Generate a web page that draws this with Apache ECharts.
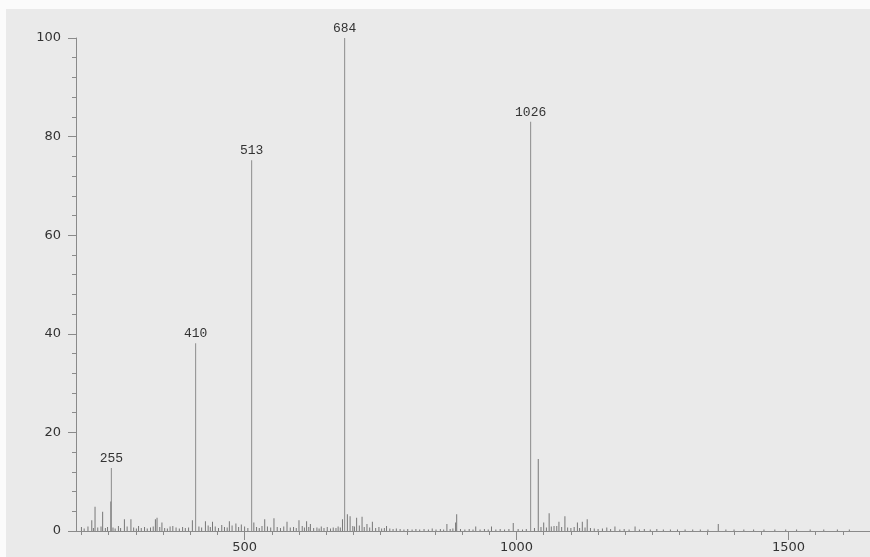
<!DOCTYPE html>
<html>
<head>
<meta charset="utf-8">
<script src="https://cdn.jsdelivr.net/npm/echarts@6/dist/echarts.min.js"></script>
<style>
html,body{margin:0;padding:0;background:#fbfbfb;}
#paper{position:absolute;left:6px;top:9px;width:864px;height:548px;background:#eaeaea;}
#chart{position:absolute;left:0;top:0;width:870px;height:557px;}
</style>
</head>
<body>
<div id="paper"></div>
<div id="chart"></div>
<script>
// m/z values and relative intensities (%)
const mz = [
  200, 205, 212, 219, 222, 225, 230, 236, 239, 244, 248, 254, 255, 258, 262, 268, 272, 279, 284, 291, 296, 301, 305, 310, 316, 321, 327, 332, 336, 339, 344, 348, 353, 358, 363, 368, 374, 380, 386, 391, 397, 404, 410, 416, 421, 428, 433, 437, 441, 446, 452, 458, 463, 468, 472, 477, 484, 489, 494, 500, 506, 513, 517, 522, 527, 532, 537, 542, 548, 554, 560, 566, 572, 578, 584, 590, 595, 600, 606, 610, 614, 618, 621, 627, 633, 637, 641, 646, 652, 658, 663, 668, 672, 676, 680, 684, 689, 694, 699, 702, 706, 711, 716, 720, 725, 730, 735, 741, 747, 752, 757, 761, 767, 773, 779, 786, 793, 800, 808, 815, 822, 830, 838, 845, 852, 860, 866, 872, 878, 883, 888, 890, 897, 905, 913, 920, 925, 933, 941, 948, 954, 962, 970, 978, 986, 994, 1003, 1011, 1018, 1026, 1033, 1040, 1045, 1050, 1055, 1060, 1064, 1069, 1074, 1078, 1083, 1089, 1094, 1100, 1106, 1112, 1116, 1121, 1126, 1130, 1136, 1143, 1150, 1158, 1166, 1173, 1181, 1190, 1198, 1207, 1218, 1226, 1235, 1246, 1258, 1270, 1283, 1296, 1310, 1324, 1338, 1352, 1371, 1385, 1400, 1418, 1436, 1455, 1475, 1495, 1515, 1540, 1565, 1590, 1612
];
const intensity = [
  0.8, 0.5, 0.9, 2.2, 0.6, 4.9, 0.7, 0.9, 3.9, 0.6, 0.8, 6.0, 12.8, 0.7, 0.5, 1.0, 0.6, 2.4, 0.9, 2.4, 0.7, 0.5, 1.0, 0.6, 0.8, 0.5, 0.7, 0.9, 2.4, 2.7, 0.8, 1.7, 0.6, 0.5, 0.9, 1.0, 0.7, 0.5, 0.8, 0.6, 0.7, 2.2, 38.1, 0.9, 0.7, 2.0, 1.1, 0.8, 1.9, 0.9, 0.6, 1.2, 0.8, 0.7, 2.0, 1.1, 1.5, 0.8, 1.3, 0.9, 0.6, 75.2, 1.7, 0.8, 0.6, 1.0, 2.4, 0.9, 0.7, 2.6, 0.8, 0.6, 0.9, 1.9, 0.7, 0.8, 0.6, 2.2, 1.0, 0.7, 2.0, 0.8, 1.4, 0.6, 0.7, 0.5, 0.9, 0.6, 0.8, 0.5, 0.7, 0.6, 0.9, 0.7, 2.4, 100, 3.4, 3.0, 1.0, 0.9, 2.7, 1.1, 2.9, 0.8, 1.4, 0.7, 1.9, 0.6, 0.8, 0.5, 0.6, 1.0, 0.5, 0.4, 0.5, 0.4, 0.3, 0.4, 0.3, 0.4, 0.3, 0.4, 0.3, 0.5, 0.3, 0.4, 0.3, 1.4, 0.4, 0.5, 1.7, 3.4, 0.4, 0.3, 0.4, 0.3, 0.9, 0.3, 0.4, 0.3, 0.9, 0.3, 0.4, 0.3, 0.4, 1.6, 0.4, 0.3, 0.4, 83.0, 0.6, 14.6, 0.8, 1.7, 0.7, 3.6, 0.9, 1.0, 1.0, 1.9, 0.8, 3.0, 0.7, 0.6, 0.8, 1.7, 0.6, 1.9, 0.7, 2.4, 0.6, 0.5, 0.4, 0.5, 0.7, 0.4, 0.9, 0.3, 0.4, 0.3, 0.9, 0.3, 0.4, 0.3, 0.4, 0.3, 0.3, 0.3, 0.3, 0.3, 0.3, 0.3, 1.4, 0.3, 0.3, 0.3, 0.3, 0.3, 0.3, 0.3, 0.3, 0.3, 0.3, 0.3, 0.3
];
const labeledPeaks = [255, 410, 513, 684, 1026];
const yTicks = [0, 20, 40, 60, 80, 100];
const xMajorTicks = [500, 1000, 1500];
const xMinorTicks = [200, 250, 300, 350, 400, 450, 500, 550, 600, 650, 700, 750, 800, 850, 900, 950, 1000, 1050, 1100, 1150, 1200, 1250, 1300, 1350, 1400, 1450, 1500, 1550, 1600, 1650];

const data = mz.map((m, i) => {
  const item = { value: [m, intensity[i]] };
  if (labeledPeaks.includes(m)) {
    item.label = { show: true, formatter: String(m) };
    item.itemStyle = { color: '#8c8c8c' };
  }
  return item;
});

const chart = echarts.init(document.getElementById('chart'), null, { renderer: 'canvas' });
const axisLineStyle = { color: '#8a8a8a', width: 1 };
chart.setOption({
  backgroundColor: 'transparent',
  animation: false,
  grid: { left: 76, right: 0, top: 38, bottom: 26, containLabel: false },
  xAxis: [
    {
      type: 'value', min: 190, max: 1650, position: 'bottom',
      axisLine: { show: true, lineStyle: axisLineStyle },
      axisTick: { show: true, length: 4, customValues: xMinorTicks, lineStyle: axisLineStyle },
      axisLabel: { show: false },
      splitLine: { show: false }
    },
    {
      type: 'value', min: 190, max: 1650, position: 'bottom',
      axisLine: { show: false },
      axisTick: { show: true, length: 9, customValues: xMajorTicks, lineStyle: axisLineStyle },
      axisLabel: { show: true, customValues: xMajorTicks, margin: 10, fontFamily: 'DejaVu Sans', fontSize: 13, color: '#333',
        formatter: v => String(v) },
      splitLine: { show: false }
    }
  ],
  yAxis: {
    type: 'value', min: 0, max: 100, interval: 20,
    axisLine: { show: true, lineStyle: axisLineStyle },
    axisTick: { show: true, length: 8, lineStyle: axisLineStyle },
    minorTick: { show: true, splitNumber: 5, length: 4, lineStyle: axisLineStyle },
    axisLabel: { margin: 15, fontFamily: 'DejaVu Sans', fontSize: 13, color: '#333',
      customValues: yTicks, formatter: v => String(v) },
    splitLine: { show: false }
  },
  series: [{
    type: 'bar',
    xAxisIndex: 0,
    barWidth: 1,
    barMinHeight: 0,
    itemStyle: { color: '#777777' },
    label: {
      show: false, position: 'top', distance: 3,
      fontFamily: 'Liberation Mono', fontSize: 13, color: '#333'
    },
    data: data
  }]
});
</script>
</body>
</html>
